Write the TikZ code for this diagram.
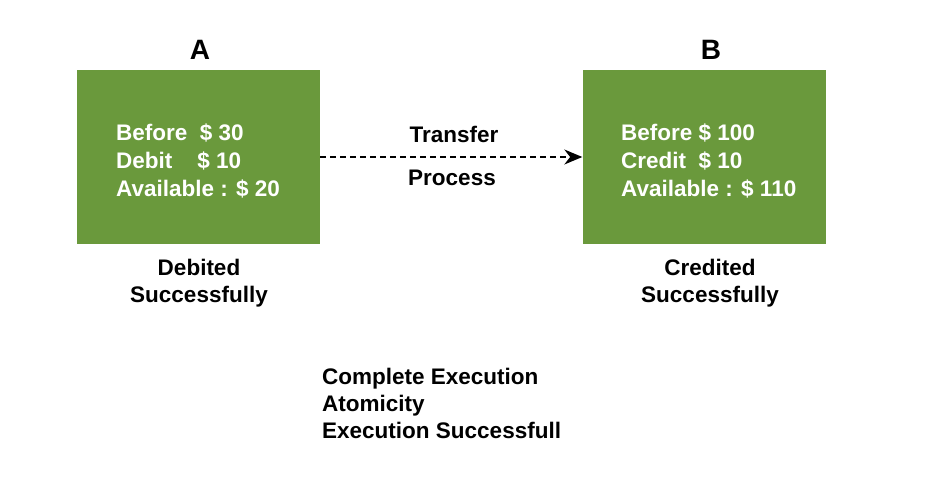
\documentclass[tikz,border=0pt]{standalone}
\usepackage{fontspec}
\setmainfont{Liberation Sans}
\usetikzlibrary{arrows.meta}
\definecolor{boxgreen}{RGB}{106,153,60}
\tikzset{
  acct/.style={rectangle, fill=boxgreen, draw=none, minimum width=243pt, minimum height=174pt, inner sep=0pt},
  inbox/.style={anchor=west, align=left, text=white, font=\bfseries\fontsize{22.5}{28}\selectfont, inner sep=0pt},
  lbl/.style={align=center, font=\bfseries\fontsize{22.5}{27}\selectfont, inner sep=0pt},
  ttl/.style={font=\bfseries\fontsize{28}{30}\selectfont, inner sep=0pt},
  flow/.style={dashed, dash pattern=on 6pt off 4pt, line width=1.4pt, -{Stealth[length=18pt,width=15pt]}}
}
\begin{document}
\begin{tikzpicture}[x=1pt,y=1pt]
\useasboundingbox (0,0) rectangle (925,-492);
\node[acct] (A) at (198.5,-157) {};
\node[acct] (B) at (704,-157) {};
\node[ttl] (tA) at (200,-50) {A};
\node[ttl] (tB) at (711,-50) {B};
\node[inbox] (iA) at (116,-161) {Before\ \ \$ 30\\Debit\ \ \ \ \$ 10\\Available : \$ 20};
\node[inbox] (iB) at (621,-161) {Before \$ 100\\Credit\ \ \$ 10\\Available : \$ 110};
\draw[flow] (A.east) -- (B.west);
\node[lbl] (tr) at (454,-134) {Transfer};
\node[lbl] (pr) at (452,-178) {Process};
\node[lbl] (dA) at (199,-283) {Debited\\Successfully};
\node[lbl] (cB) at (710,-283) {Credited\\Successfully};
\node[lbl, anchor=west, align=left] (sum) at (322,-403) {Complete Execution\\Atomicity\\Execution Successfull};
\end{tikzpicture}
\end{document}
